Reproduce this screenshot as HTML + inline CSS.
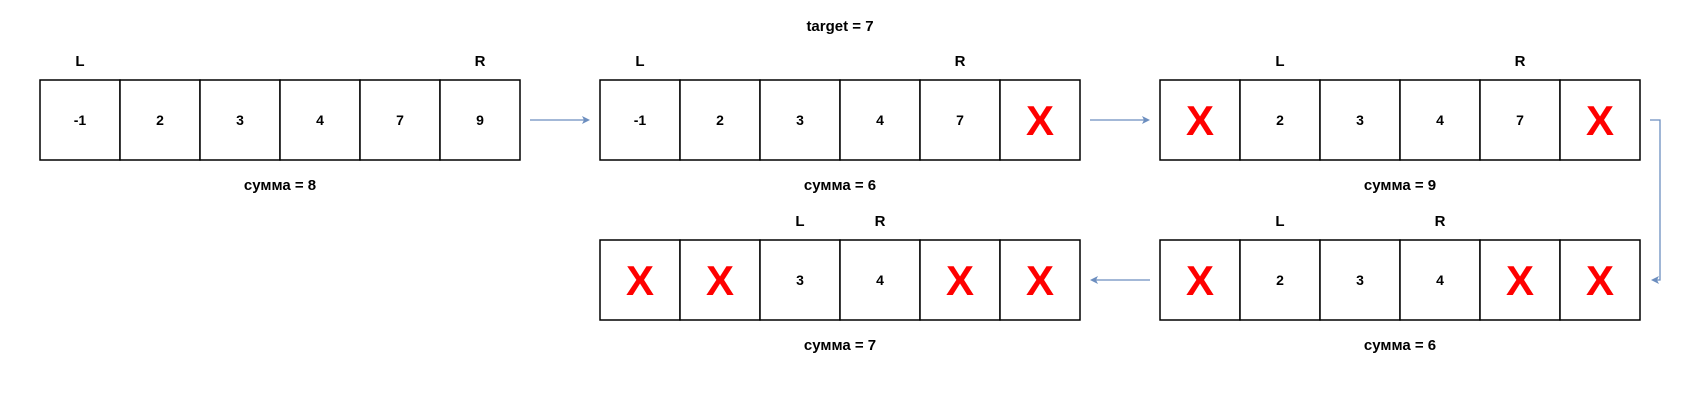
<!DOCTYPE html>
<html><head><meta charset="utf-8"><style>
body{margin:0;background:#fff;width:1701px;height:401px;overflow:hidden}
svg{display:block}
text{font-family:"Liberation Sans",Arial,sans-serif;font-weight:bold;fill:#000}
</style></head><body>
<svg id="s" width="1701" height="401">
<text x="840" y="31" font-size="15" text-anchor="middle">target = 7</text>
<g fill="none" stroke="#6c8ebf" stroke-width="1.3">
<line x1="530" y1="120" x2="586" y2="120"/>
<line x1="1090" y1="120" x2="1146" y2="120"/>
<polyline points="1650,120 1660,120 1660,280 1656,280"/>
<line x1="1150" y1="280" x2="1094" y2="280"/>
</g>
<g fill="#6c8ebf">
<polygon points="590,120 582,116 584,120 582,124"/>
<polygon points="1150,120 1142,116 1144,120 1142,124"/>
<polygon points="1651,280 1659,276 1657,280 1659,284"/>
<polygon points="1090,280 1098,276 1096,280 1098,284"/>
</g>
</svg>
<script>
const boxX=[40,600,1160,600,1160];
const boxY=[80,80,80,240,240];
const values=[["-1","2","3","4","7","9"],["-1","2","3","4","7","X"],["X","2","3","4","7","X"],["X","X","3","4","X","X"],["X","2","3","4","X","X"]];
const lIdx=[0,0,1,2,1];
const rIdx=[5,4,4,3,3];
const sums=[8,6,9,7,6];
const W=80,H=80,NS="http://www.w3.org/2000/svg";
const s=document.getElementById('s');
function mk(t,a){const e=document.createElementNS(NS,t);for(const k in a)e.setAttribute(k,a[k]);s.appendChild(e);return e;}
values.forEach((row,b)=>{
 row.forEach((v,i)=>{
  const x=boxX[b]+i*W,y=boxY[b];
  const r=mk('rect',{x:x,y:y,width:W,height:H,fill:'#fff',stroke:'#000','stroke-width':1.5});
  
  
  const t=mk('text',{x:x+W/2,y:v==='X'?y+H/2+15:y+H/2+5,'text-anchor':'middle','font-size':v==='X'?42:14});
  if(v==='X')t.style.fill='#ff0000';
  t.textContent=v;
  
  
 });
 const L=mk('text',{x:boxX[b]+lIdx[b]*W+W/2,y:boxY[b]-14,'text-anchor':'middle','font-size':15});
 L.textContent='L';
 
 
 const R=mk('text',{x:boxX[b]+rIdx[b]*W+W/2,y:boxY[b]-14,'text-anchor':'middle','font-size':15});
 R.textContent='R';
 
 
 const S=mk('text',{x:boxX[b]+3*W,y:boxY[b]+H+30,'text-anchor':'middle','font-size':15});
 S.textContent='сумма = '+sums[b];
 
 
});
</script>
</body></html>
